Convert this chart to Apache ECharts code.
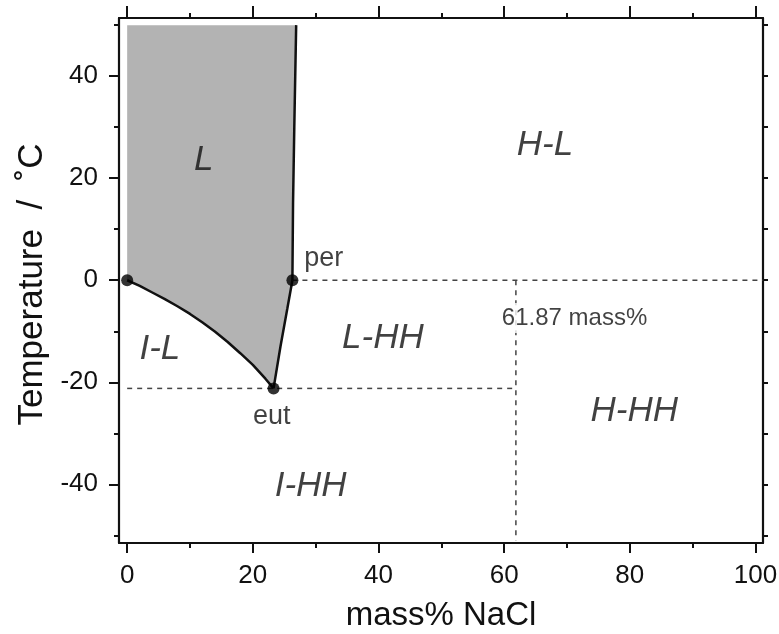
<!DOCTYPE html>
<html><head><meta charset="utf-8">
<script src="https://cdn.jsdelivr.net/npm/echarts@6/dist/echarts.min.js"></script>
<style>html,body{margin:0;padding:0;background:#fff}#c{width:779px;height:634px}</style>
</head><body><div id="c"></div>
<script>
// ---- tick values ----
const xMajorTicks = [0, 20, 40, 60, 80, 100];
const xMinorTicks = [10, 30, 50, 70, 90];
const yMajorTicks = [-40, -20, 0, 20, 40];
const yMinorTicks = [-50, -30, -10, 10, 30, 50];
const yAllTicks = [-50, -40, -30, -20, -10, 0, 10, 20, 30, 40, 50];

// ---- phase boundaries (mass% NaCl, °C) ----
const iceLiquidus = [[0,0],[2,-1.1],[4,-2.4],[6,-3.7],[8,-5.1],[10,-6.6],[12,-8.3],[14,-10.1],[16,-12.1],[18,-14.3],[20,-16.6],[22,-19.3],[23.3,-21.2]];
const hydrohaliteLiquidus = [[23.3,-21.2],[24.4,-13],[25.5,-5.5],[26.3,0]];
const haliteLiquidus = [[26.3,0],[26.4,15],[26.6,30],[26.9,50]];
const liquidTopT = 50;
const invariantPoints = [[0,0],[26.3,0],[23.3,-21.2]];
const peritecticIsotherm = [[26.3,0],[101.2,0]];
const eutecticIsotherm = [[0,-21.2],[61.87,-21.2]];
const hydrohaliteComposition = [[61.87,0],[61.87,-51]];

// ---- annotations ----
const regionNames = ['L','H-L','I-L','L-HH','H-HH','I-HH'];
const regionX = [12.2, 66.5, 5.2, 40.7, 80.7, 29.2];
const regionY = [23.5, 26.5, -13.5, -11.4, -25.7, -40.4];
const pointNames = ['per','eut'];
const pointX = [31.3, 23.0];
const pointY = [4.3, -26.8];
const hhLabel = '61.87 mass%';
const hhLabelPos = [71.2, -7.4];

// ---- build ----
const font = '"Liberation Sans", Arial, Helvetica, sans-serif';
const ink = '#111';
const xMin = -1.3, xMax = 101.2, yMin = -51.5, yMax = 51.4;

const liquidPoly = [[0, liquidTopT]]
  .concat(haliteLiquidus.slice().reverse())
  .concat(hydrohaliteLiquidus.slice().reverse().slice(1))
  .concat(iceLiquidus.slice().reverse().slice(1));

function xAx(pos, ticks, len, showLine, showLabel, extra) {
  return Object.assign({
    type: 'value', position: pos, min: xMin, max: xMax,
    axisLine: {show: showLine, onZero: false, lineStyle: {color: ink, width: 2.2}},
    axisTick: {show: true, inside: false, customValues: ticks, length: len, lineStyle: {color: ink, width: 2}},
    axisLabel: {show: showLabel, customValues: ticks, margin: 20, fontSize: 26, color: ink, fontFamily: font},
    splitLine: {show: false}
  }, extra || {});
}
function yAx(pos, ticks, len, showLine, showLabel, extra) {
  return Object.assign({
    type: 'value', position: pos, min: yMin, max: yMax,
    axisLine: {show: showLine, onZero: false, lineStyle: {color: ink, width: 2.2}},
    axisTick: {show: true, inside: false, customValues: ticks, length: len, lineStyle: {color: ink, width: 2}},
    axisLabel: {show: showLabel, customValues: ticks, margin: 21, fontSize: 26, color: ink, fontFamily: font},
    splitLine: {show: false}
  }, extra || {});
}

const solid = {color: ink, width: 2.5};
const dashed = {color: '#444', width: 1.5, type: [5, 5]};

const option = {
  animation: false,
  backgroundColor: '#fff',
  grid: {left: 119, right: 16, top: 18, bottom: 91, containLabel: false, outerBoundsMode: 'none'},
  xAxis: [
    xAx('bottom', xMajorTicks, 10, true, true, {
      name: 'mass% NaCl', nameLocation: 'middle', nameGap: 56, nameMoveOverlap: false,
      nameTextStyle: {fontSize: 33, color: ink, fontFamily: font}
    }),
    xAx('bottom', xMinorTicks, 5, false, false),
    xAx('top', xMajorTicks, 12, true, false),
    xAx('top', xMinorTicks, 5, false, false)
  ],
  yAxis: [
    yAx('left', yMajorTicks, 10, true, true, {
      name: 'Temperature  /  \u02DAC', nameLocation: 'middle', nameGap: 69, nameRotate: 90, nameMoveOverlap: false,
      nameTextStyle: {fontSize: 35, color: ink, fontFamily: font, padding: [0, 8, 0, 0]}
    }),
    yAx('left', yMinorTicks, 5, false, false),
    yAx('right', yAllTicks, 5, true, false)
  ],
  series: [
    {type: 'custom', z: 1, silent: true, data: [[0, 0]],
     renderItem: function (params, api) {
       return {type: 'polygon', shape: {points: liquidPoly.map(function (p) { return api.coord(p); })},
               style: {fill: '#b3b3b3'}};
     }},
    {type: 'line', z: 3, data: peritecticIsotherm, symbol: 'none', lineStyle: dashed, silent: true},
    {type: 'line', z: 3, data: eutecticIsotherm, symbol: 'none', lineStyle: dashed, silent: true},
    {type: 'line', z: 3, data: hydrohaliteComposition, symbol: 'none', lineStyle: dashed, silent: true},
    {type: 'line', z: 4, data: iceLiquidus, symbol: 'none', lineStyle: solid, silent: true},
    {type: 'line', z: 4, data: hydrohaliteLiquidus, symbol: 'none', lineStyle: solid, silent: true},
    {type: 'line', z: 4, data: haliteLiquidus, symbol: 'none', lineStyle: solid, silent: true},
    {type: 'scatter', z: 5, data: invariantPoints, symbol: 'circle', symbolSize: 12,
     itemStyle: {color: '#000'}, silent: true},
    {type: 'scatter', z: 6, symbolSize: 0, silent: true,
     data: regionNames.map(function (n, i) { return {name: n, value: [regionX[i], regionY[i]]}; }),
     label: {show: true, position: 'inside', formatter: '{b}', fontSize: 35, fontStyle: 'italic',
             color: ink, fontFamily: font}},
    {type: 'scatter', z: 6, symbolSize: 0, silent: true,
     data: pointNames.map(function (n, i) { return {name: n, value: [pointX[i], pointY[i]]}; }),
     label: {show: true, position: 'inside', formatter: '{b}', fontSize: 27,
             color: ink, fontFamily: font}},
    {type: 'scatter', z: 6, symbolSize: 0, silent: true,
     data: [{name: hhLabel, value: hhLabelPos}],
     label: {show: true, position: 'inside', formatter: '{b}', fontSize: 24,
             color: ink, fontFamily: font, backgroundColor: '#fff', padding: [3, 2]}}
  ]
};
const chart = echarts.init(document.getElementById('c'), null, {renderer: 'canvas'});
chart.setOption(option);
</script></body></html>
